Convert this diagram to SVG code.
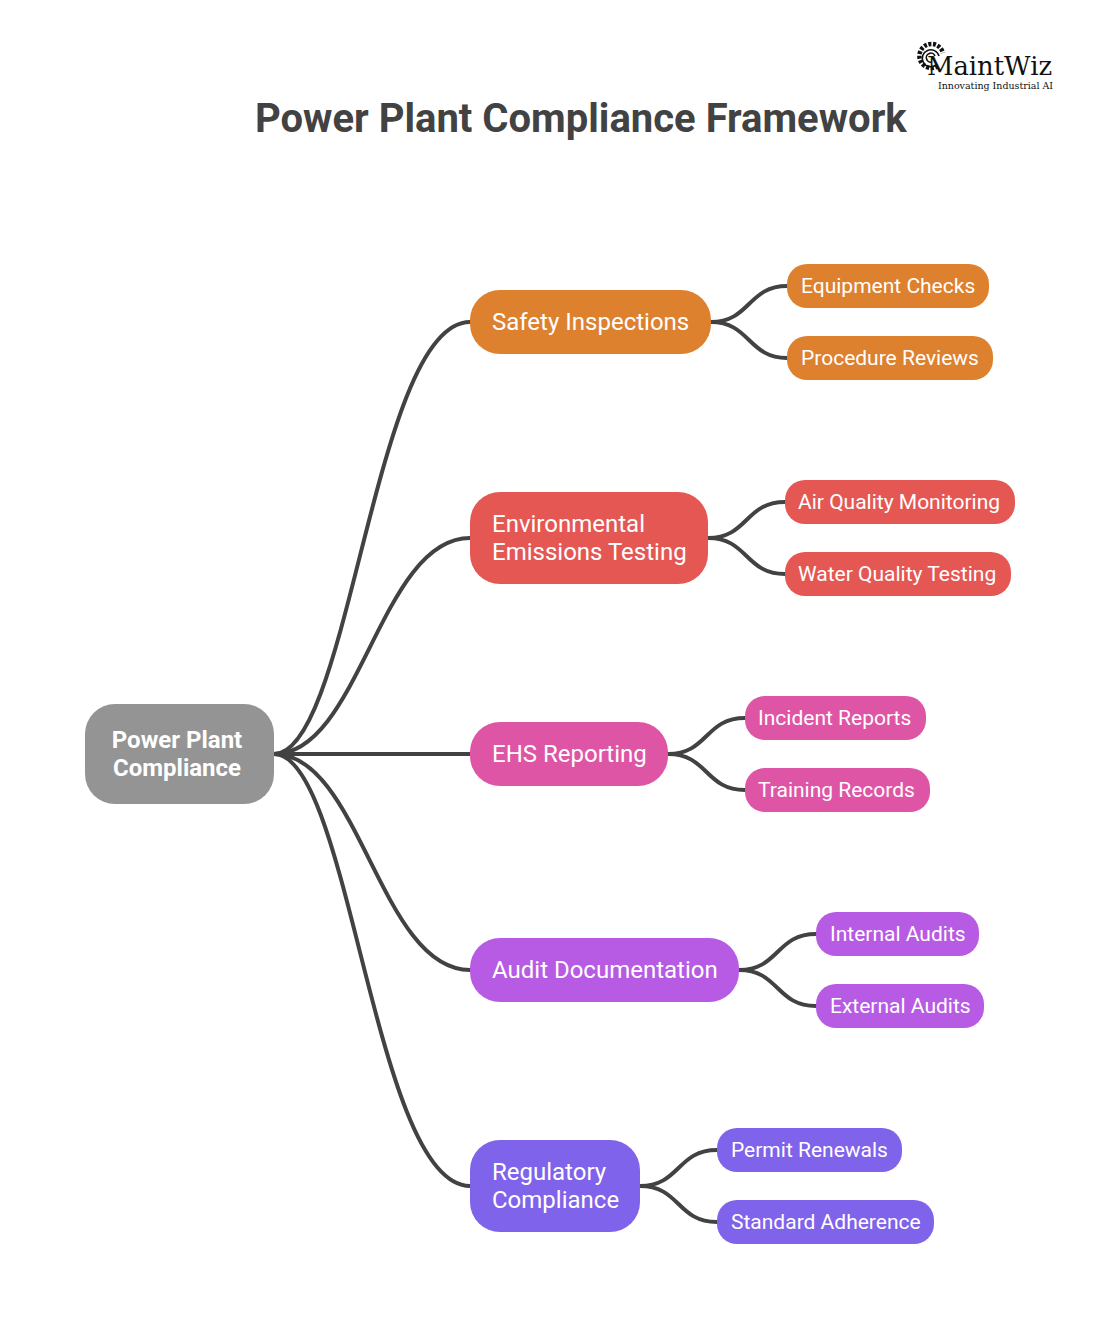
<svg xmlns="http://www.w3.org/2000/svg" width="1102" height="1338" viewBox="0 0 1102 1338">
<style>
text{font-family:Roboto,"Liberation Sans",sans-serif;fill:#fff}
.m{font-size:24px;font-weight:400}
.s{font-size:21px;font-weight:400}
.c{font-size:24px;font-weight:700;text-anchor:middle}
.t{font-size:40px;font-weight:700;fill:#424242}
.o{fill:#dd812f}.r{fill:#e55753}.p{fill:#de55a5}.v{fill:#b75ae4}.i{fill:#7f63ea}
#connectors path{fill:none;stroke:#424242;stroke-width:4}
.logo{font-family:"DejaVu Serif","Liberation Serif",serif;fill:#111}
</style>
<rect width="1102" height="1338" fill="#fff"/>
<text class="t" x="255" y="132">Power Plant Compliance Framework</text>
<g id="logo">
<path d="M938 66A12 12 0 1 1 943 53" fill="none" stroke="#111" stroke-width="4.5" stroke-dasharray="3 1.6"/>
<path d="M936 65a8.500 8.500 0 1 1 3-9M932 62a4.500 4.500 0 1 1 3-6" fill="none" stroke="#111" stroke-width="1.6"/>
<text class="logo" x="927" y="75" font-size="26" textLength="125" lengthAdjust="spacingAndGlyphs">MaintWiz</text>
<text class="logo" x="938" y="89" font-size="10" textLength="115" lengthAdjust="spacingAndGlyphs">Innovating Industrial AI</text>
</g>
<g id="connectors">
<path d="M274 754C350 754 374 322 470 322"/>
<path d="M274 754C360 754 380 538 470 538"/>
<path d="M274 754H470"/>
<path d="M274 754C360 754 380 970 470 970"/>
<path d="M274 754C350 754 374 1186 470 1186"/>
<path d="M711 322C750 322 748 286 787 286"/>
<path d="M711 322C750 322 748 358 787 358"/>
<path d="M708 538C748 538 745 502 785 502"/>
<path d="M708 538C748 538 745 574 785 574"/>
<path d="M668 754C708 754 705 718 745 718"/>
<path d="M668 754C708 754 705 790 745 790"/>
<path d="M739 970C779 970 776 934 816 934"/>
<path d="M739 970C779 970 776 1006 816 1006"/>
<path d="M640 1186C680 1186 677 1150 717 1150"/>
<path d="M640 1186C680 1186 677 1222 717 1222"/>
</g>
<g id="root"><rect x="85" y="704" width="189" height="100" rx="30" fill="#949494"/><text class="c" x="177" y="748">Power Plant</text><text class="c" x="177" y="776">Compliance</text></g>
<g id="safety"><rect class="o" x="470" y="290" width="241" height="64" rx="30"/><text class="m" x="492" y="330">Safety Inspections</text></g>
<g id="equipment"><rect class="o" x="787" y="264" width="202" height="44" rx="20"/><text class="s" x="801" y="293">Equipment Checks</text></g>
<g id="procedure"><rect class="o" x="787" y="336" width="206" height="44" rx="20"/><text class="s" x="801" y="365">Procedure Reviews</text></g>
<g id="environmental"><rect class="r" x="470" y="492" width="238" height="92" rx="30"/><text class="m" x="492" y="532">Environmental</text><text class="m" x="492" y="560">Emissions Testing</text></g>
<g id="air"><rect class="r" x="785" y="480" width="230" height="44" rx="20"/><text class="s" x="798" y="509">Air Quality Monitoring</text></g>
<g id="water"><rect class="r" x="785" y="552" width="226" height="44" rx="20"/><text class="s" x="798" y="581">Water Quality Testing</text></g>
<g id="ehs"><rect class="p" x="470" y="722" width="198" height="64" rx="30"/><text class="m" x="492" y="762">EHS Reporting</text></g>
<g id="incident"><rect class="p" x="745" y="696" width="181" height="44" rx="20"/><text class="s" x="758" y="725">Incident Reports</text></g>
<g id="training"><rect class="p" x="745" y="768" width="185" height="44" rx="20"/><text class="s" x="758" y="797">Training Records</text></g>
<g id="audit"><rect class="v" x="470" y="938" width="269" height="64" rx="30"/><text class="m" x="492" y="978">Audit Documentation</text></g>
<g id="internal"><rect class="v" x="816" y="912" width="163" height="44" rx="20"/><text class="s" x="830" y="941">Internal Audits</text></g>
<g id="external"><rect class="v" x="816" y="984" width="168" height="44" rx="20"/><text class="s" x="830" y="1013">External Audits</text></g>
<g id="regulatory"><rect class="i" x="470" y="1140" width="170" height="92" rx="30"/><text class="m" x="492" y="1180">Regulatory</text><text class="m" x="492" y="1208">Compliance</text></g>
<g id="permit"><rect class="i" x="717" y="1128" width="185" height="44" rx="20"/><text class="s" x="731" y="1157">Permit Renewals</text></g>
<g id="standard"><rect class="i" x="717" y="1200" width="217" height="44" rx="20"/><text class="s" x="731" y="1229">Standard Adherence</text></g>
</svg>
